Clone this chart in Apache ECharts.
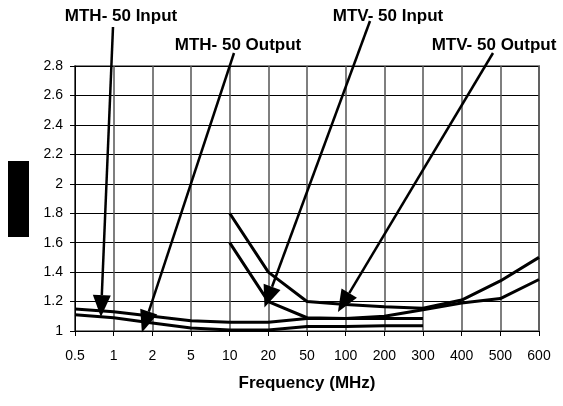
<!DOCTYPE html>
<html>
<head>
<meta charset="utf-8">
<script src="https://cdn.jsdelivr.net/npm/echarts@6/dist/echarts.min.js"></script>
<style>html,body{margin:0;padding:0;background:#fff}#c{width:563px;height:406px}</style>
</head>
<body>
<div id="c"></div>
<script>
// ---- data ----
var categories = ['0.5', '1', '2', '5', '10', '20', '50', '100', '200', '300', '400', '500', '600'];
var mthInput  = [1.15, 1.13, 1.10, 1.07, 1.06, 1.06, 1.085, 1.085, 1.085, 1.085, null, null, null];
var mthOutput = [1.11, 1.09, 1.055, 1.02, 1.007, 1.007, 1.03, 1.03, 1.035, 1.035, null, null, null];
var mtvInput  = [null, null, null, null, 1.60, 1.20, 1.09, 1.085, 1.10, 1.145, 1.19, 1.22, 1.35];
var mtvOutput = [null, null, null, null, 1.80, 1.40, 1.20, 1.18, 1.165, 1.155, 1.21, 1.34, 1.50];
var yTicks = { min: 1, max: 2.8, interval: 0.2 };
// annotations: label text, label position, arrow tail, arrow tip (category index, value)
var annotations = [
  { text: 'MTH- 50 Input',  tx: 121, ty: 16, tail: [113, 27], tip: [0.67, 1.095] },
  { text: 'MTH- 50 Output', tx: 238, ty: 45, tail: [234, 53], tip: [1.73, 0.99] },
  { text: 'MTV- 50 Input',  tx: 388, ty: 16, tail: [370, 21], tip: [4.9, 1.16] },
  { text: 'MTV- 50 Output', tx: 494, ty: 45, tail: [493, 53], tip: [6.8, 1.129] }
];

var chart = echarts.init(document.getElementById('c'));
function mkSeries(name, data) {
  return { name: name, type: 'line', data: data, symbol: 'none', connectNulls: false,
    lineStyle: { color: '#000', width: 3 }, itemStyle: { color: '#000' }, z: 3 };
}
chart.setOption({
  animation: false,
  backgroundColor: '#fff',
  grid: { left: 75, right: 24, top: 66, bottom: 75, show: true, borderColor: '#888', borderWidth: 2 },
  xAxis: {
    type: 'category', data: categories, boundaryGap: false,
    name: 'Frequency (MHz)', nameLocation: 'middle', nameGap: 44,
    nameTextStyle: { fontFamily: 'Liberation Sans', fontWeight: 'bold', fontSize: 17, color: '#000' },
    axisLine: { lineStyle: { color: '#000', width: 1 } },
    axisTick: { show: true, length: 5, alignWithLabel: true, lineStyle: { color: '#000' } },
    axisLabel: { fontFamily: 'Liberation Sans', fontSize: 14, color: '#000', margin: 18, interval: 0 },
    splitLine: { show: true, lineStyle: { color: '#555', width: 1.5 } }
  },
  yAxis: {
    type: 'value', min: yTicks.min, max: yTicks.max, interval: yTicks.interval,
    axisLine: { show: true, lineStyle: { color: '#000', width: 1 } },
    axisTick: { show: true, length: 5, lineStyle: { color: '#000' } },
    axisLabel: { fontFamily: 'Liberation Sans', fontSize: 14, color: '#000', margin: 12,
      formatter: function (v) { return String(Math.round(v * 10) / 10); } },
    splitLine: { show: true, lineStyle: { color: '#000', width: 1 } }
  },
  series: [
    mkSeries('MTH-50 Input', mthInput),
    mkSeries('MTH-50 Output', mthOutput),
    mkSeries('MTV-50 Input', mtvInput),
    mkSeries('MTV-50 Output', mtvOutput)
  ]
});

function toPx(idx, val) {
  var i0 = Math.floor(idx), f = idx - i0;
  var p0 = chart.convertToPixel({ gridIndex: 0 }, [i0, val]);
  var p1 = chart.convertToPixel({ gridIndex: 0 }, [i0 + 1, val]);
  return [p0[0] + (p1[0] - p0[0]) * f, p0[1]];
}
var elements = [
  { type: 'rect', shape: { x: 8, y: 161, width: 21, height: 76 }, style: { fill: '#000' }, z: 10 }
];
annotations.forEach(function (a) {
  var tip = toPx(a.tip[0], a.tip[1]);
  var tail = a.tail;
  var dx = tip[0] - tail[0], dy = tip[1] - tail[1];
  var len = Math.sqrt(dx * dx + dy * dy), ux = dx / len, uy = dy / len;
  var headLen = 22, headW = 9;
  var bx = tip[0] - ux * headLen, by = tip[1] - uy * headLen;
  elements.push({ type: 'line', shape: { x1: tail[0], y1: tail[1], x2: bx, y2: by },
    style: { stroke: '#000', lineWidth: 2.5 }, z: 10 });
  elements.push({ type: 'polygon', shape: { points: [
      [tip[0], tip[1]], [bx - uy * headW, by + ux * headW], [bx + uy * headW, by - ux * headW]] },
    style: { fill: '#000' }, z: 10 });
  elements.push({ type: 'text', x: a.tx, y: a.ty, style: { text: a.text, fill: '#000',
    font: 'bold 17px "Liberation Sans"', textAlign: 'center', textVerticalAlign: 'middle' }, z: 11 });
});
chart.setOption({ graphic: { elements: elements } });
</script>
</body>
</html>
